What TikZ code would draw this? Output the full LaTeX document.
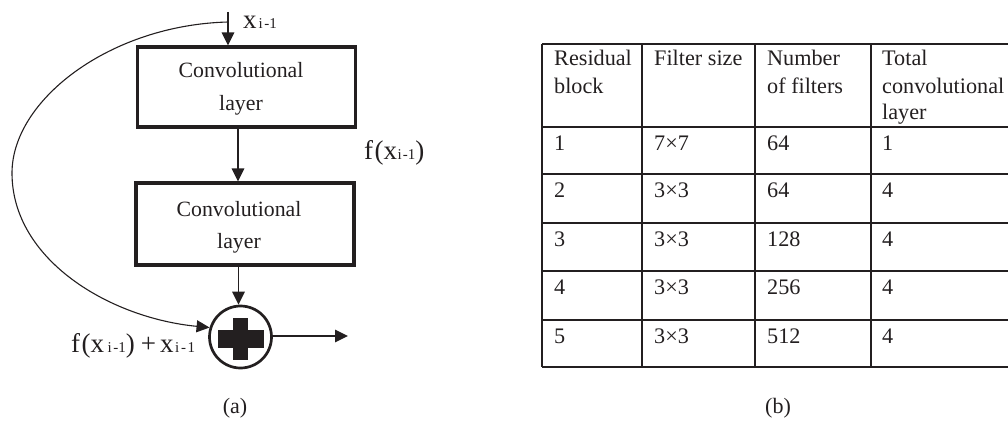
\documentclass[tikz,border=0pt]{standalone}
\usepackage{fontspec}
\setmainfont{Liberation Serif}
\usetikzlibrary{arrows.meta,calc}
\definecolor{ink}{RGB}{35,31,32}
\newcommand{\bigt}[1]{{\fontsize{27}{27}\selectfont #1}}
\newcommand{\smallt}[1]{{\fontsize{15}{15}\selectfont #1}}
\begin{document}
\begin{tikzpicture}[x=1pt,y=-1pt,
  every node/.style={text=ink},
  convbox/.style={draw=ink, line width=3.2pt, minimum width=218pt, minimum height=80pt, inner sep=0pt},
  boxtext/.style={align=center, font=\fontsize{21.8}{33}\selectfont, inner sep=0pt},
  arr/.style={draw=ink, line width=1.4pt, -{Triangle[length=13pt,width=12.5pt]}},
  skip/.style={draw=ink, line width=1.1pt, -{Triangle[length=13pt,width=12pt]}},
  addnode/.style={circle, draw=ink, line width=2.7pt, minimum size=62pt, inner sep=0pt},
  lbl/.style={inner sep=0pt, anchor=base west},
  cell/.style={inner sep=0pt, anchor=base west, font=\fontsize{22.2}{26}\selectfont},
  tline/.style={draw=ink, line width=1.5pt},
  captext/.style={inner sep=0pt, anchor=base, font=\fontsize{22}{26}\selectfont}]
\useasboundingbox (0,0) rectangle (1008,420);

% ---------- (a) residual block ----------
\coordinate (in) at (228,12);
\coordinate (split) at (228,22);
\node[convbox] (c1) at (246.5,87) {};
\node[boxtext] (t1) at (241,88.6) {Convolutional\\layer};
\node[convbox, minimum height=82pt] (c2) at (245,224) {};
\node[boxtext, font=\fontsize{21.8}{32}\selectfont] (t2) at (239,227.2) {Convolutional\\layer};
\node[addnode] (plus) at (240.5,337) {};
\fill[ink] ([shift={(-23,-7)}]plus.center) rectangle ([shift={(23,11)}]plus.center);
\fill[ink] ([shift={(-7.5,-19)}]plus.center) rectangle ([shift={(7.5,23)}]plus.center);
\coordinate (out) at (348,336);
\coordinate (bend) at (12,173);

\draw[arr] (in) -- (in |- c1.north);
\draw[arr] (c1.south -| 238,0) -- (c2.north -| 238,0);
\draw[arr] (c2.south -| 238.5,0) -- (plus.north -| 238.5,0);
\draw[arr] (plus.east |- out) -- (out);
\draw[skip] (split) .. controls (110,25) and (12,100) .. (bend)
  .. controls (12,260) and (110,318) .. (plus.163);

\node[lbl] (xlab) at (243,29) {\bigt{x}\kern2pt\smallt{i\kern1.5pt-1}};
\node[lbl] (flab) at (364,159) {\bigt{f\kern1.5pt(x}\kern0.5pt\smallt{i\kern1pt-1}\bigt{)}};
\node[lbl] (slab) at (71,352) {\bigt{f\kern1.5pt(x}\kern3.5pt\smallt{i\kern1.5pt-1}\bigt{)\kern6pt+\kern4pt x}\kern1.5pt\smallt{i\kern2pt-\kern1.5pt1}};
\node[captext] (capa) at (235,413) {(a)};

% ---------- (b) table ----------
\foreach \yy in {44,127,174,223,271,320,367}
  \draw[tline] (542,\yy) -- (1008,\yy);
\foreach \xx in {542,642,755,871}
  \draw[tline] (\xx,44) -- (\xx,367);

\node[cell] (h1a) at (554,66) {Residual};
\node[cell] (h1b) at (554,93) {block};
\node[cell] (h2a) at (654,66) {Filter size};
\node[cell] (h3a) at (767,66) {Number};
\node[cell] (h3b) at (767,93) {of filters};
\node[cell] (h4a) at (882,66) {Total};
\node[cell] (h4b) at (882,93) {convolutional};
\node[cell] (h4c) at (882,119) {layer};

\foreach \yy/\a/\b/\c/\d in {150/1/7×7/64/1, 197/2/3×3/64/4, 246/3/3×3/128/4, 294/4/3×3/256/4, 343/5/3×3/512/4}{
  \node[cell] at (554,\yy) {\a};
  \node[cell] at (654,\yy) {\b};
  \node[cell] at (767,\yy) {\c};
  \node[cell] at (882,\yy) {\d};
}
\node[captext] (capb) at (778,413) {(b)};
\end{tikzpicture}
\end{document}
